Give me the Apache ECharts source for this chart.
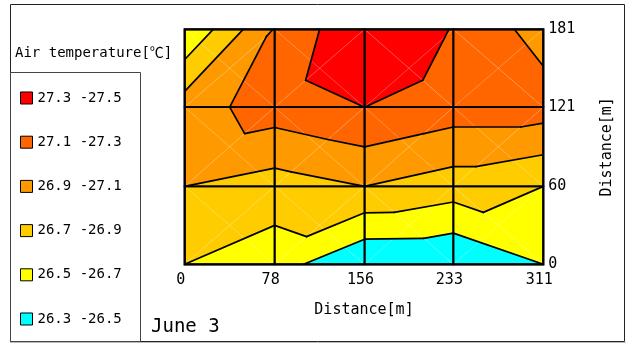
<!DOCTYPE html>
<html><head><meta charset="utf-8">
<script src="https://cdn.jsdelivr.net/npm/echarts@6/dist/echarts.min.js"></script>
<style>html,body{margin:0;padding:0;background:#fff;}#c{width:629px;height:343px;}</style>
</head><body><div id="c"></div>
<script>
// ---- data ----
const xDistance = [0, 78, 156, 233, 311];
const yDistance = [0, 60, 121, 181];
const tempAt0   = [26.70, 26.59, 26.31, 26.30, 26.50];
const tempAt60  = [26.90, 26.81, 26.90, 26.80, 26.70];
const tempAt121 = [27.00, 27.20, 27.30, 27.20, 27.20];
const tempAt181 = [26.51, 27.11, 27.49, 27.29, 27.01];
const bandLow   = [27.3, 27.1, 26.9, 26.7, 26.5, 26.3];
const bandHigh  = [27.5, 27.3, 27.1, 26.9, 26.7, 26.5];
const bandNames = ['27.3 -27.5', '27.1 -27.3', '26.9 -27.1', '26.7 -26.9', '26.5 -26.7', '26.3 -26.5'];
const bandColors = ['#FF0000', '#FF6600', '#FF9900', '#FFCC00', '#FFFF00', '#00FFFF'];
const contourLevels = [26.5, 26.7, 26.9, 27.1, 27.3];
const legendTitle = 'Air temperature[℃]';
const axisTitle = 'Distance[m]';
const dateLabel = 'June 3';

const temps = [tempAt0, tempAt60, tempAt121, tempAt181];
const cells = [];
for (let j = 0; j < yDistance.length - 1; j++)
  for (let i = 0; i < xDistance.length - 1; i++) cells.push([i, j]);

function node(i, j) { return { x: xDistance[i], y: yDistance[j], z: temps[j][i] }; }
function cellTriangles(c) {
  const i = c[0], j = c[1];
  const BL = node(i, j), BR = node(i + 1, j), TL = node(i, j + 1), TR = node(i + 1, j + 1);
  if ((BL.z + TR.z) >= (BR.z + TL.z) - 1e-9) return [[BL, BR, TR], [BL, TR, TL]];
  return [[BL, BR, TL], [BR, TR, TL]];
}
function lerp(a, b, L) {
  const t = (L - a.z) / (b.z - a.z);
  return { x: a.x + t * (b.x - a.x), y: a.y + t * (b.y - a.y), z: L };
}
function clipPoly(poly, L, above) {
  const out = [];
  for (let k = 0; k < poly.length; k++) {
    const a = poly[k], b = poly[(k + 1) % poly.length];
    const ina = above ? a.z >= L : a.z <= L;
    const inb = above ? b.z >= L : b.z <= L;
    if (ina) out.push(a);
    if (ina !== inb) out.push(lerp(a, b, L));
  }
  return out;
}
function makeBandRender(k) {
  return function (params, api) {
    const children = [];
    cellTriangles(cells[params.dataIndex]).forEach(function (tri) {
      let poly = clipPoly(tri, bandLow[k], true);
      if (poly.length >= 3) poly = clipPoly(poly, bandHigh[k], false);
      if (poly.length >= 3) {
        children.push({
          type: 'polygon',
          shape: { points: poly.map(function (p) { return api.coord([p.x, p.y]); }) },
          style: { fill: bandColors[k], stroke: bandColors[k], lineWidth: 0.6 }
        });
      }
    });
    return { type: 'group', children: children };
  };
}
function renderLines(params, api) {
  const c = cells[params.dataIndex];
  const i = c[0], j = c[1];
  const children = [];
  const p00 = api.coord([xDistance[i], yDistance[j]]);
  const p10 = api.coord([xDistance[i + 1], yDistance[j]]);
  const p01 = api.coord([xDistance[i], yDistance[j + 1]]);
  const p11 = api.coord([xDistance[i + 1], yDistance[j + 1]]);
  [[p00, p11], [p10, p01]].forEach(function (d) {
    children.push({ type: 'line', shape: { x1: d[0][0], y1: d[0][1], x2: d[1][0], y2: d[1][1] },
      style: { stroke: 'rgba(255,255,255,0.45)', lineWidth: 0.6 } });
  });
  cellTriangles(c).forEach(function (tri) {
    contourLevels.forEach(function (L) {
      const pts = [];
      for (let k = 0; k < 3; k++) {
        const a = tri[k], b = tri[(k + 1) % 3];
        if ((a.z >= L) !== (b.z >= L)) pts.push(lerp(a, b, L));
      }
      if (pts.length === 2) {
        const q1 = api.coord([pts[0].x, pts[0].y]), q2 = api.coord([pts[1].x, pts[1].y]);
        children.push({ type: 'line', shape: { x1: q1[0], y1: q1[1], x2: q2[0], y2: q2[1] },
          style: { stroke: '#000', lineWidth: 1.7, lineCap: 'round' } });
      }
    });
  });
  children.push({ type: 'polygon', shape: { points: [p00, p10, p11, p01] },
    style: { fill: null, stroke: '#000', lineWidth: 1.8 } });
  return { type: 'group', children: children };
}
function renderFrame(params, api) {
  const a = api.coord([xDistance[0], yDistance[yDistance.length - 1]]);
  const b = api.coord([xDistance[xDistance.length - 1], yDistance[0]]);
  return { type: 'rect', shape: { x: a[0], y: a[1], width: b[0] - a[0], height: b[1] - a[1] },
    style: { fill: null, stroke: '#000', lineWidth: 2.2 } };
}

const mono = "'DejaVu Sans Mono', 'Noto Sans CJK JP', monospace";
const series = bandNames.map(function (name, k) {
  return { type: 'custom', name: name, coordinateSystem: 'cartesian2d', data: cells, clip: false,
    silent: true, animation: false, itemStyle: { color: bandColors[k] }, renderItem: makeBandRender(k) };
});
series.push({ type: 'custom', name: 'lines', coordinateSystem: 'cartesian2d', data: cells, clip: false,
  silent: true, animation: false, renderItem: renderLines });
series.push({ type: 'custom', name: 'frame', coordinateSystem: 'cartesian2d', data: [[0, 0]], clip: false,
  silent: true, animation: false, renderItem: renderFrame });

const chart = echarts.init(document.getElementById('c'), null, { renderer: 'canvas' });
chart.setOption({
  backgroundColor: '#fff',
  animation: false,
  grid: { left: 184.7, top: 29.3, width: 358.6, height: 235 },
  xAxis: {
    type: 'value', min: 0, max: 311, position: 'bottom',
    axisLine: { show: false }, axisTick: { show: false }, splitLine: { show: false },
    axisLabel: { customValues: xDistance, color: '#000', fontSize: 15, fontFamily: mono, margin: 8, padding: [0, 8, 0, 0] },
    name: axisTitle, nameLocation: 'middle', nameGap: 38,
    nameTextStyle: { color: '#000', fontSize: 15, fontFamily: mono }
  },
  yAxis: {
    type: 'value', min: 0, max: 181, position: 'right',
    axisLine: { show: false }, axisTick: { show: false }, splitLine: { show: false },
    axisLabel: { customValues: yDistance, color: '#000', fontSize: 15, fontFamily: mono, margin: 5 },
    name: axisTitle, nameLocation: 'middle', nameRotate: 90, nameGap: 56,
    nameTextStyle: { color: '#000', fontSize: 15, fontFamily: mono }
  },
  legend: {
    data: bandNames, orient: 'vertical', left: 20, top: 91, padding: 0, height: 245, icon: 'rect',
    itemWidth: 12, itemHeight: 12, itemGap: 30.2, selectedMode: false,
    itemStyle: { borderColor: '#000', borderWidth: 1 },
    textStyle: { color: '#000', fontSize: 14, fontFamily: mono, lineHeight: 12 }
  },
  graphic: [
    { type: 'rect', shape: { x: 10.5, y: 4.5, width: 614, height: 337 }, style: { fill: null, stroke: '#222', lineWidth: 1 }, silent: true },
    { type: 'line', shape: { x1: 10, y1: 342.5, x2: 626, y2: 342.5 }, style: { stroke: '#bbb', lineWidth: 1 }, silent: true },
    { type: 'rect', shape: { x: 10.5, y: 72.5, width: 130, height: 269 }, style: { fill: null, stroke: '#444', lineWidth: 1 }, silent: true },
    { type: 'text', x: 15, y: 53, style: { text: legendTitle, fill: '#000', font: '14px ' + mono, verticalAlign: 'middle' }, silent: true },
    { type: 'text', x: 151, y: 327, style: { text: dateLabel, fill: '#000', font: '19px ' + mono, verticalAlign: 'middle' }, silent: true }
  ],
  series: series
});
</script>
</body></html>
